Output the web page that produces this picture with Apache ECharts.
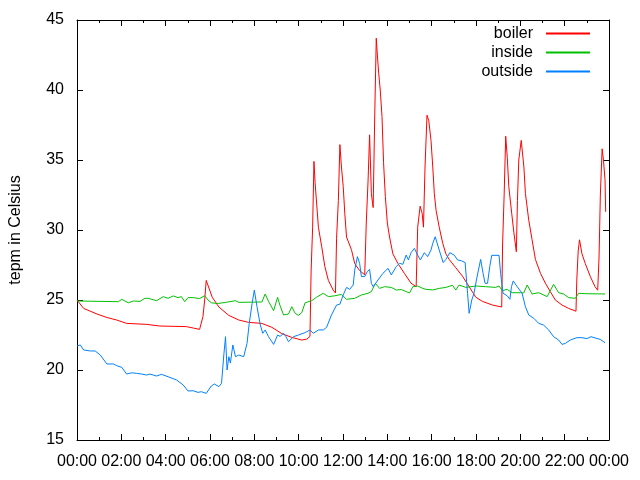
<!DOCTYPE html>
<html>
<head>
<meta charset="utf-8">
<script src="https://cdn.jsdelivr.net/npm/echarts@6/dist/echarts.min.js"></script>
<style>html,body{margin:0;padding:0;background:#fff}#c{width:640px;height:480px}</style>
</head>
<body>
<div id="c"></div>
<script>
// Time in hours since midnight, temperatures in Celsius
const xTicks = [0, 2, 4, 6, 8, 10, 12, 14, 16, 18, 20, 22, 24];
const yTicks = [15, 20, 25, 30, 35, 40, 45];
const seriesNames = ['boiler', 'inside', 'outside'];

const boilerTime = [0,0.30,0.90,1.35,1.79,2.24,3.14,3.74,4.93,5.24,5.53,5.68,5.76,5.83,6.10,6.40,6.85,7.30,7.75,8.34,8.79,9.24,9.69,10.14,10.36,10.51,10.56,10.63,10.69,10.74,10.89,11.04,11.18,11.34,11.56,11.66,11.71,11.79,11.86,11.93,12.01,12.08,12.16,12.38,12.53,12.75,12.98,13.05,13.13,13.20,13.28,13.36,13.43,13.50,13.55,13.61,13.68,13.76,13.83,13.91,14.00,14.10,14.25,14.48,14.77,15.07,15.30,15.37,15.48,15.57,15.63,15.70,15.79,15.87,15.97,16.05,16.12,16.20,16.34,16.50,16.64,16.79,17.09,17.39,17.69,17.99,18.29,18.74,19.16,19.20,19.27,19.34,19.41,19.48,19.61,19.71,19.82,19.87,19.93,20.04,20.16,20.23,20.38,20.53,20.68,20.91,21.13,21.35,21.58,21.88,22.18,22.51,22.55,22.61,22.67,22.78,22.93,23.15,23.37,23.49,23.55,23.61,23.69,23.75,23.82,23.85];
const boilerTemp = [25.0,24.4,24.0,23.75,23.57,23.33,23.26,23.14,23.1,23.0,22.9,23.8,25.0,26.4,25.2,24.5,23.9,23.57,23.4,23.33,23.05,22.6,22.33,22.14,22.2,22.4,27.0,30.2,34.9,33.4,30.2,28.8,27.4,26.4,25.7,25.5,29.4,32.1,36.1,34.5,33.1,31.2,29.5,28.6,27.6,27.1,26.8,30.5,33.5,36.8,32.6,31.6,38.0,43.7,42.5,41.2,40.0,38.1,34.8,32.4,30.5,29.5,28.3,27.6,26.9,26.2,25.95,30.2,31.7,31.2,30.2,34.5,38.2,37.8,36.4,34.5,32.6,31.4,30.2,29.05,28.3,27.9,27.3,26.7,25.95,25.2,24.9,24.64,24.5,29.0,32.5,36.7,35.2,33.1,31.2,29.8,28.45,32.1,35.0,36.4,34.5,32.6,30.7,29.3,27.9,26.9,26.2,25.6,25.0,24.64,24.4,24.2,26.5,28.5,29.3,28.3,27.6,26.7,25.95,25.7,28.0,32.5,35.8,35.0,33.6,31.3];

const insideTime = [0,1.87,2.02,2.32,2.54,2.84,3.06,3.21,3.59,3.89,4.11,4.34,4.56,4.71,4.86,5.01,5.24,5.53,5.76,5.91,6.06,6.28,6.40,6.70,7.15,7.30,8.34,8.49,8.64,8.87,9.05,9.16,9.32,9.54,9.69,9.84,9.99,10.14,10.29,10.59,10.81,11.11,11.34,11.63,11.93,12.16,12.53,12.83,13.13,13.28,13.46,13.65,13.87,14.18,14.40,14.63,14.85,15.00,15.15,15.37,15.60,15.75,16.05,16.34,16.64,16.94,17.09,17.24,17.54,17.99,18.44,18.89,19.04,19.19,19.41,19.63,20.01,20.15,20.31,20.53,20.83,21.21,21.50,21.73,21.95,22.18,22.48,22.63,22.93,23.82];
const insideTemp = [24.93,24.88,25.05,24.8,24.93,24.9,25.12,25.12,24.95,25.24,25.12,25.29,25.17,25.24,24.88,25.17,25.17,25.1,25.31,25.0,24.8,24.76,24.76,24.83,24.95,24.83,24.86,25.43,24.9,24.24,25.19,24.6,23.93,24.0,24.52,24.05,23.9,24.1,24.8,24.95,25.2,25.48,25.24,25.3,25.4,25.05,25.12,25.36,25.48,25.6,26.19,25.83,25.95,25.9,25.71,25.75,25.6,25.5,25.95,26.0,25.83,25.76,25.72,25.83,25.9,26.05,25.71,26.07,25.9,26.0,25.95,25.9,26.0,25.67,25.76,25.52,25.52,25.5,26.07,25.43,25.52,25.24,26.12,25.52,25.43,25.17,25.12,25.48,25.45,25.43];

const outsideTime = [0,0.15,0.30,0.60,0.82,1.05,1.35,1.65,1.79,2.02,2.24,2.47,2.69,2.92,3.14,3.29,3.59,3.81,4.11,4.49,4.79,5.01,5.24,5.46,5.61,5.83,6.06,6.20,6.40,6.52,6.63,6.70,6.77,6.85,6.92,7.03,7.15,7.30,7.52,7.67,7.77,7.90,8.00,8.12,8.27,8.38,8.49,8.64,8.87,9.05,9.16,9.32,9.42,9.54,9.77,9.99,10.29,10.51,10.66,10.89,11.11,11.26,11.48,11.71,11.86,12.01,12.16,12.30,12.46,12.53,12.65,12.75,12.83,12.98,13.09,13.20,13.28,13.36,13.58,13.80,14.03,14.18,14.40,14.55,14.70,14.85,14.95,15.07,15.22,15.37,15.49,15.67,15.82,15.97,16.05,16.16,16.34,16.52,16.64,16.82,17.02,17.17,17.35,17.51,17.62,17.69,17.81,17.91,18.02,18.11,18.21,18.32,18.41,18.52,18.62,18.71,19.04,19.11,19.22,19.41,19.53,19.60,19.68,19.86,20.08,20.23,20.38,20.61,20.83,21.05,21.28,21.50,21.73,21.88,22.03,22.25,22.55,22.78,23.00,23.19,23.37,23.60,23.82];
const outsideTemp = [21.71,21.79,21.43,21.36,21.36,21.07,20.43,20.43,20.31,20.19,19.71,19.8,19.76,19.71,19.64,19.71,19.57,19.69,19.52,19.29,18.93,18.5,18.52,18.4,18.45,18.33,18.86,19.0,18.81,19.05,21.19,22.38,20.0,20.95,20.5,21.79,20.95,21.07,20.95,21.9,23.33,24.76,25.71,24.52,23.21,22.62,22.86,22.38,21.83,22.5,22.4,22.62,22.4,22.02,22.38,22.5,22.67,22.86,22.62,22.86,22.86,23.05,23.93,24.64,24.7,25.36,25.9,25.76,26.07,27.14,28.1,27.62,26.67,26.67,27.02,27.19,26.19,25.95,26.43,26.9,27.26,26.79,27.38,27.62,27.55,28.21,27.86,28.38,28.69,28.2,27.86,28.38,28.1,28.57,29.05,29.52,28.57,27.67,27.9,28.38,28.2,27.86,27.8,27.67,25.48,24.05,25.0,25.48,26.43,27.14,27.9,26.9,26.19,26.19,27.38,28.19,28.19,26.9,25.48,25.3,25.05,25.95,26.36,25.95,25.48,24.52,23.93,23.69,23.33,23.21,22.86,22.38,22.14,21.83,21.9,22.14,22.31,22.31,22.24,22.38,22.29,22.19,21.95];

const colors = ['#ff0000', '#00c000', '#0080ff'];

function pairs(t, v) { return t.map((x, i) => [x, v[i]]); }
function hhmm(v) { const h = Math.round(v) % 24; return (h < 10 ? '0' : '') + h + ':00'; }

const FONT = 'Liberation Sans';
const chart = echarts.init(document.getElementById('c'), null, {renderer: 'canvas'});

const xBase = {
  type: 'value', min: xTicks[0], max: xTicks[xTicks.length - 1], interval: xTicks[1] - xTicks[0],
  axisLine: {show: true, onZero: false, lineStyle: {color: '#000', width: 1}},
  axisTick: {show: true, inside: true, length: 6, lineStyle: {color: '#000'}},
  minorTick: {show: true, splitNumber: 2, length: 3, lineStyle: {color: '#000'}},
  splitLine: {show: false}
};
const yBase = {
  type: 'value', min: yTicks[0], max: yTicks[yTicks.length - 1], interval: yTicks[1] - yTicks[0],
  axisLine: {show: true, onZero: false, lineStyle: {color: '#000', width: 1}},
  axisTick: {show: true, inside: true, length: 6, lineStyle: {color: '#000'}},
  splitLine: {show: false}
};

chart.setOption({
  animation: false,
  color: colors,
  textStyle: {fontFamily: FONT},
  grid: {left: 74, right: 31, top: 20, bottom: 40, containLabel: false},
  legend: {
    data: seriesNames.map((n, i) => ({name: n, icon: 'rect', itemStyle: {color: colors[i], borderWidth: 0}})),
    orient: 'vertical', right: 50, top: 24, align: 'right',
    itemWidth: 44, itemHeight: 2, itemGap: 0, padding: 0,
    selectedMode: false,
    textStyle: {fontSize: 16, color: '#000', fontFamily: FONT, lineHeight: 19, padding: [0, 8, 0, 0]}
  },
  xAxis: [
    Object.assign({}, xBase, {position: 'bottom',
      axisLabel: {color: '#000', fontSize: 16, fontFamily: FONT, margin: 14, formatter: hhmm}}),
    Object.assign({}, xBase, {position: 'top', axisLabel: {show: false}})
  ],
  yAxis: [
    Object.assign({}, yBase, {position: 'left',
      name: 'tepm in Celsius', nameLocation: 'middle', nameGap: 53, nameRotate: 90,
      nameTextStyle: {color: '#000', fontSize: 16, fontFamily: FONT},
      axisLabel: {color: '#000', fontSize: 16, fontFamily: FONT, margin: 13}}),
    Object.assign({}, yBase, {position: 'right', axisLabel: {show: false}})
  ],
  series: [
    {name: seriesNames[0], type: 'line', data: pairs(boilerTime, boilerTemp), showSymbol: false, symbol: 'none', lineStyle: {width: 1, color: colors[0]}, itemStyle: {color: colors[0]}},
    {name: seriesNames[1], type: 'line', data: pairs(insideTime, insideTemp), showSymbol: false, symbol: 'none', lineStyle: {width: 1, color: colors[1]}, itemStyle: {color: colors[1]}},
    {name: seriesNames[2], type: 'line', data: pairs(outsideTime, outsideTemp), showSymbol: false, symbol: 'none', lineStyle: {width: 1, color: colors[2]}, itemStyle: {color: colors[2]}}
  ]
});
</script>
</body>
</html>
